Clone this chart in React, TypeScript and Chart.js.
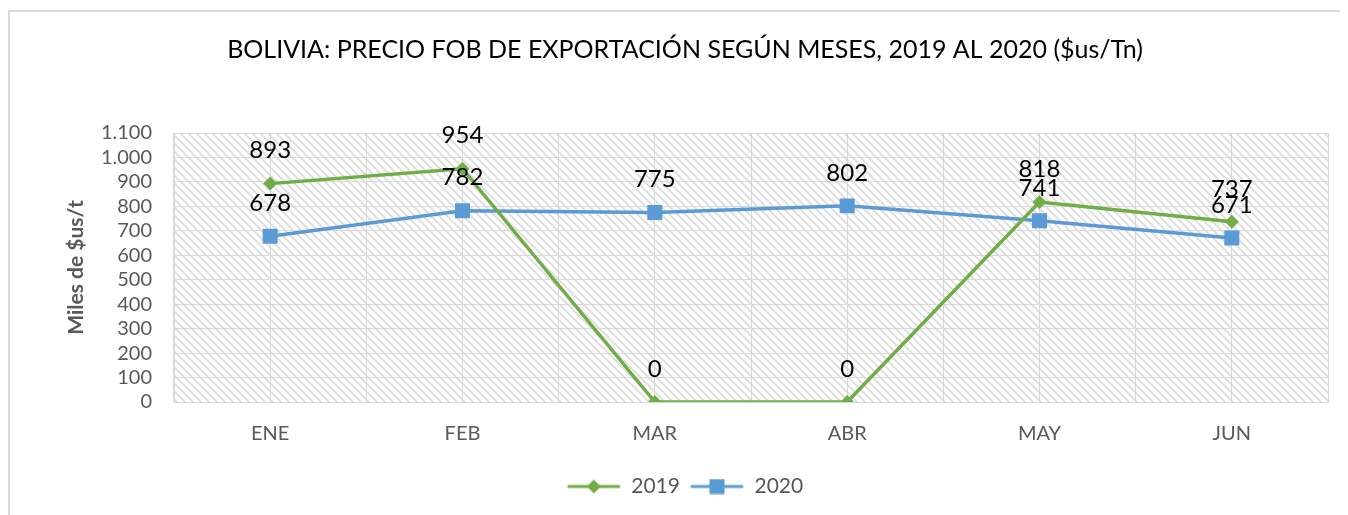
import React, { useEffect, useRef } from "react";
import { Chart, registerables } from "chart.js";

Chart.register(...registerables);

const categories = ["ENE", "FEB", "MAR", "ABR", "MAY", "JUN"];
const series2019 = [893, 954, 0, 0, 818, 737];
const series2020 = [678, 782, 775, 802, 741, 671];
const seriesNames = ["2019", "2020"];
const titleText = "BOLIVIA: PRECIO FOB DE EXPORTACIÓN SEGÚN MESES, 2019 AL 2020 ($us/Tn)";
const yTitle = "Miles de $us/t";
const yMin = 0;
const yMax = 1100;
const yStep = 100;

const GREEN = "#70AD47";
const BLUE = "#5B9BD5";
const GRID = "#d9d9d9";
const FONT = "Lato, 'Noto Sans', sans-serif";

function makeHatch(): CanvasPattern | string {
  const c = document.createElement("canvas");
  c.width = 8;
  c.height = 8;
  const g = c.getContext("2d");
  if (!g) return "#fff";
  g.fillStyle = "#ffffff";
  g.fillRect(0, 0, 8, 8);
  g.fillStyle = "#e2e2e2";
  for (let y = 0; y < 8; y++) {
    for (let k = 0; k < 3; k++) {
      g.fillRect((y + k) % 8, y, 1, 1);
    }
  }
  const ctx = document.createElement("canvas").getContext("2d");
  return ctx ? (ctx.createPattern(c, "repeat") as CanvasPattern) : "#fff";
}

function legendIcon(color: string, shape: "diamond" | "square"): HTMLCanvasElement {
  const c = document.createElement("canvas");
  c.width = 54;
  c.height = 16;
  const g = c.getContext("2d")!;
  g.strokeStyle = color;
  g.lineWidth = 3;
  g.lineCap = "round";
  g.beginPath();
  g.moveTo(2, 8);
  g.lineTo(52, 8);
  g.stroke();
  g.fillStyle = color;
  if (shape === "diamond") {
    g.beginPath();
    g.moveTo(27 - 7, 8);
    g.lineTo(27, 1);
    g.lineTo(27 + 7, 8);
    g.lineTo(27, 15);
    g.closePath();
    g.fill();
  } else {
    g.fillRect(27 - 7.5, 0.5, 15, 15);
  }
  return c;
}

const bgPlugin = {
  id: "hatchBg",
  beforeDraw(chart: any) {
    const { ctx, chartArea } = chart;
    if (!chartArea) return;
    ctx.save();
    ctx.fillStyle = "#ffffff";
    ctx.fillRect(0, 0, chart.width, chart.height);
    ctx.fillStyle = (chart as any)._hatch || "#fff";
    ctx.fillRect(chartArea.left, chartArea.top, chartArea.right - chartArea.left, chartArea.bottom - chartArea.top);
    ctx.restore();
  },
};

const labelPlugin = {
  id: "valueLabels",
  afterDatasetsDraw(chart: any) {
    const { ctx } = chart;
    ctx.save();
    ctx.font = `24px ${FONT}`;
    ctx.fillStyle = "#000000";
    ctx.textAlign = "center";
    ctx.textBaseline = "middle";
    chart.data.datasets.forEach((ds: any, i: number) => {
      const meta = chart.getDatasetMeta(i);
      meta.data.forEach((pt: any, j: number) => {
        const v = ds.data[j];
        ctx.fillText(String(v), pt.x, pt.y - 33);
      });
    });
    ctx.restore();
  },
};

export default function App() {
  const ref = useRef<HTMLCanvasElement | null>(null);

  useEffect(() => {
    if (!ref.current) return;
    const icons = [legendIcon(GREEN, "diamond"), legendIcon(BLUE, "square")];
    const chart = new Chart(ref.current, {
      type: "line",
      data: {
        labels: categories,
        datasets: [
          {
            label: seriesNames[0],
            data: series2019,
            borderColor: GREEN,
            backgroundColor: GREEN,
            borderWidth: 3.5,
            pointStyle: "rectRot",
            pointRadius: 7,
            pointHoverRadius: 7,
            pointBorderWidth: 0,
            tension: 0,
            xAxisID: "x",
          },
          {
            label: seriesNames[1],
            data: series2020,
            borderColor: BLUE,
            backgroundColor: BLUE,
            borderWidth: 3.5,
            pointStyle: "rect",
            pointRadius: 10.6,
            pointHoverRadius: 10.6,
            pointBorderWidth: 0,
            tension: 0,
            xAxisID: "x",
          },
        ],
      },
      options: {
        animation: false,
        responsive: false,
        maintainAspectRatio: false,
        layout: { padding: { left: 32, right: 20, top: 0, bottom: 8 } },
        scales: {
          x: {
            type: "category",
            offset: true,
            position: "bottom",
            grid: { offset: true, color: GRID, lineWidth: 1, drawTicks: false },
            border: { color: GRID },
            ticks: { color: "#595959", font: { family: FONT, size: 20 }, padding: 20 },
            afterFit(scale: any) {
              scale.height = 64;
            },
          },
          x2: {
            type: "category",
            labels: categories,
            offset: true,
            position: "bottom",
            grid: { offset: false, color: GRID, lineWidth: 1, drawTicks: false },
            border: { display: false },
            ticks: { display: false },
            afterFit(scale: any) {
              scale.height = 0;
            },
          },
          y: {
            min: yMin,
            max: yMax,
            grid: { color: GRID, lineWidth: 1, drawTicks: false },
            border: { color: GRID },
            ticks: {
              stepSize: yStep,
              autoSkip: false,
              color: "#595959",
              font: { family: FONT, size: 20 },
              padding: 22,
              callback: (v: any) => Number(v).toLocaleString("de-DE"),
            },
            title: {
              display: true,
              text: yTitle,
              color: "#595959",
              font: { family: FONT, size: 21, weight: "bold" },
              padding: { top: 22, bottom: 0 },
            },
            afterFit(scale: any) {
              scale.width = 132;
            },
          },
        },
        plugins: {
          title: {
            display: true,
            text: titleText,
            color: "#000000",
            font: { family: FONT, size: 25, weight: "normal" },
            padding: { top: 23, bottom: 68 },
          },
          legend: {
            display: true,
            position: "bottom",
            labels: {
              color: "#595959",
              font: { family: FONT, size: 21 },
              usePointStyle: true,
              pointStyleWidth: 54,
              padding: 10,
              generateLabels(chart: any) {
                const base = Chart.defaults.plugins.legend.labels.generateLabels(chart);
                return base.map((l: any, i: number) => ({ ...l, pointStyle: icons[i] }));
              },
            },
          },
          tooltip: { enabled: false },
        },
      },
      plugins: [
        {
          id: "hatchInit",
          beforeInit(chart: any) {
            chart._hatch = makeHatch();
          },
        },
        bgPlugin,
        labelPlugin,
      ],
    } as any);
    return () => chart.destroy();
  }, []);

  return (
    <div style={{ paddingTop: 2 }}>
      <div
        style={{
          width: 1338,
          height: 503,
          borderLeft: `2px solid ${GRID}`,
          borderTop: `2px solid ${GRID}`,
          overflow: "hidden",
        }}
      >
        <canvas ref={ref} width={1338} height={503} style={{ display: "block" }} />
      </div>
    </div>
  );
}
